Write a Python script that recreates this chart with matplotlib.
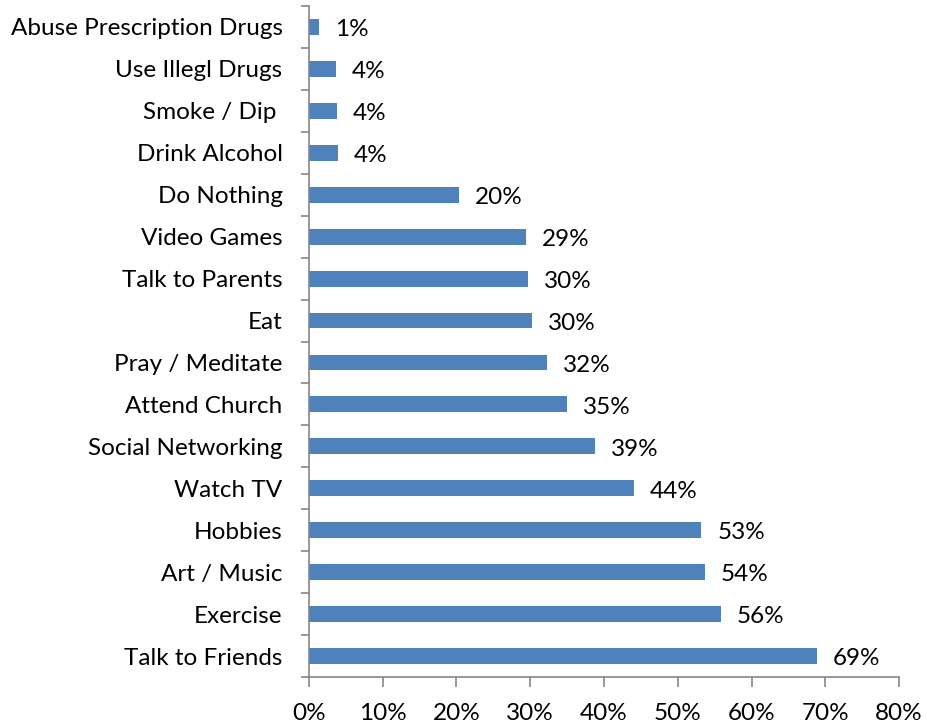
import matplotlib
matplotlib.use("Agg")
import matplotlib.pyplot as plt
from matplotlib.ticker import FixedLocator, PercentFormatter

plt.rcParams['font.family'] = ['Lato', 'DejaVu Sans']

categories = [
    "Talk to Friends", "Exercise", "Art / Music", "Hobbies", "Watch TV",
    "Social Networking", "Attend Church", "Pray / Meditate", "Eat",
    "Talk to Parents", "Video Games", "Do Nothing", "Drink Alcohol",
    "Smoke / Dip ", "Use Illegl Drugs", "Abuse Prescription Drugs",
]
values = [68.9, 55.8, 53.7, 53.2, 44.1, 38.8, 35.0, 32.3, 30.2,
          29.7, 29.4, 20.3, 3.9, 3.8, 3.6, 1.4]
xticks = [0, 10, 20, 30, 40, 50, 60, 70, 80]

bar_color = "#4F81BD"
axis_color = "#868686"
fs = 17.5

fig = plt.figure(figsize=(9.28, 7.25), dpi=100)
ax = fig.add_axes([309 / 928, 1 - 677 / 725, 590 / 928, 671 / 725])

ypos = list(range(len(categories)))
ax.barh(ypos, values, height=0.38, color=bar_color)

for y, v in zip(ypos, values):
    ax.annotate(f"{v:.0f}%", (v, y), xytext=(11.5, -2), textcoords="offset points",
                va="center", ha="left", fontsize=fs, color="black")

ax.set_xlim(0, 80)
ax.set_ylim(-0.5, len(categories) - 0.5)
ax.set_xticks(xticks)
ax.xaxis.set_major_formatter(PercentFormatter(decimals=0))
ax.set_yticks(ypos)
ax.set_yticklabels(categories)
ax.yaxis.set_minor_locator(FixedLocator([i - 0.5 for i in range(len(categories) + 1)]))

ax.tick_params(axis="y", which="major", length=0, pad=19, labelsize=fs)
ax.tick_params(axis="y", which="minor", length=6, width=1.2, color=axis_color, direction="out")
ax.tick_params(axis="x", which="major", length=7, width=1.2, color=axis_color,
               direction="out", pad=12, labelsize=fs)

for side in ("top", "right"):
    ax.spines[side].set_visible(False)
for side in ("left", "bottom"):
    ax.spines[side].set_color(axis_color)
    ax.spines[side].set_linewidth(1.2)

fig.savefig("out.png", dpi=100)
